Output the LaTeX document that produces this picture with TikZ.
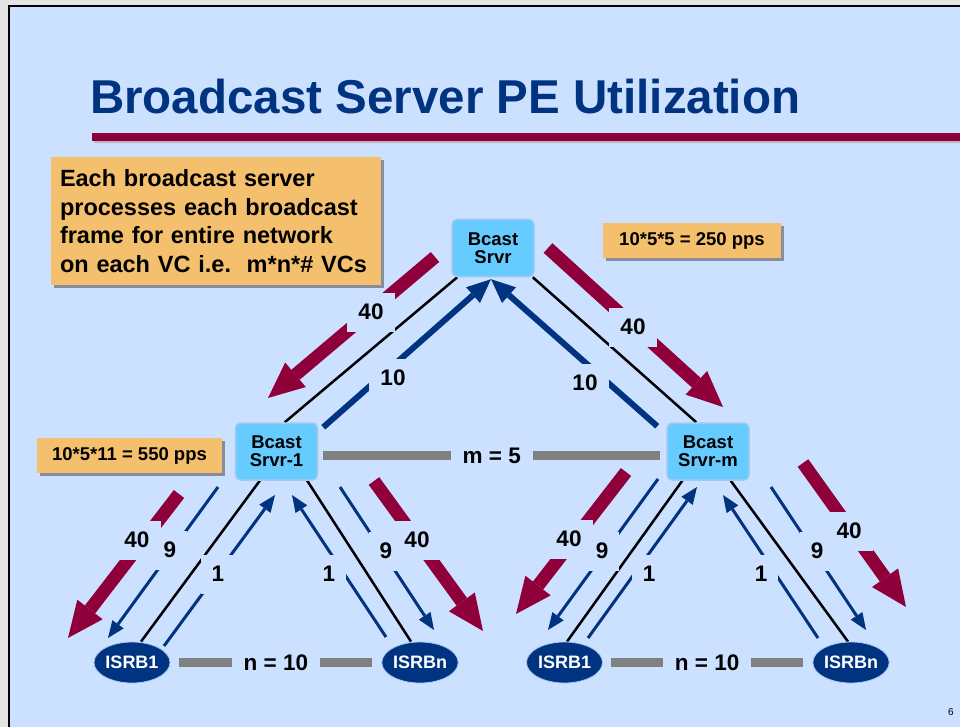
\documentclass[tikz,border=0pt]{standalone}
\usepackage{fontspec}
\setmainfont{Liberation Sans}
\usetikzlibrary{arrows.meta,shapes.geometric,shadows,calc}

\definecolor{slidebg}{RGB}{204,224,255}
\definecolor{outerbg}{RGB}{228,228,228}
\definecolor{titleblue}{RGB}{0,51,128}
\definecolor{rulered}{RGB}{143,0,59}
\definecolor{notefill}{RGB}{245,192,110}
\definecolor{noteshadow}{RGB}{135,140,158}
\definecolor{srvfill}{RGB}{102,204,255}
\definecolor{srvedge}{RGB}{165,200,240}
\definecolor{bargray}{RGB}{128,128,128}

\pgfdeclarelayer{back}
\pgfdeclarelayer{links}
\pgfsetlayers{back,links,main}

\begin{document}
\begin{tikzpicture}[x=1pt, y=-1pt,
  every node/.style={font=\bfseries},
  srv/.style={rectangle, rounded corners=5pt, fill=srvfill, draw=srvedge, line width=1.5pt,
    minimum width=82pt, minimum height=57pt, inner sep=0pt, align=center,
    font=\bfseries\fontsize{18.5}{18}\selectfont},
  isrb/.style={ellipse, fill=titleblue, draw=srvedge, line width=0.8pt,
    minimum width=76pt, minimum height=41pt, inner sep=0pt, text=white,
    font=\bfseries\fontsize{18}{18}\selectfont},
  note/.style={rectangle, fill=notefill, inner sep=0pt,
    drop shadow={shadow xshift=3pt, shadow yshift=-3pt, fill=noteshadow, opacity=1}},
  link/.style={line width=2.5pt, draw=black},
  bar/.style={line width=9pt, draw=bargray},
  bigred/.style={line width=13pt, draw=rulered,
    -{Triangle[length=36pt, width=32pt, line width=0pt]}},
  midblue/.style={line width=6pt, draw=titleblue,
    -{Triangle[length=24pt, width=21pt, line width=0pt]}},
  thinblue/.style={line width=3pt, draw=titleblue,
    -{Triangle[length=17pt, width=14pt, line width=0pt]}},
  rate/.style={fill=slidebg, inner xsep=11pt, inner ysep=0pt, minimum height=39pt,
    font=\bfseries\fontsize{22.5}{22.5}\selectfont},
  count/.style={fill=slidebg, inner xsep=12pt, inner ysep=0pt, minimum height=14pt,
    font=\bfseries\fontsize{22.5}{22.5}\selectfont},
]
\useasboundingbox (0,0) rectangle (960,727);

% slide background and frame
\begin{pgfonlayer}{back}
  \fill[outerbg] (0,0) rectangle (960,727);
  \fill[slidebg] (9,6) rectangle (960,727);
  \draw[line width=2.5pt] (9,727) -- (9,6) -- (960,6);
\end{pgfonlayer}

% title and rule
\node[anchor=base west, inner sep=0pt, text=titleblue,
  font=\bfseries\fontsize{47.5}{47.5}\selectfont] (title) at (90,114)
  {Broadcast Server PE Utilization};
\fill[black!28] (94,136) rectangle (960,143);
\fill[rulered] (92,133) rectangle (960,141);

% notes
\node[note, text width=312pt, inner xsep=9pt, minimum height=128pt, align=left,
  font=\bfseries\fontsize{23.5}{28.5}\selectfont] (info) at (216,221)
  {Each broadcast server\\processes each broadcast\\frame for entire network\\on each VC i.e.\ \ m*n*\# VCs};
\node[note, minimum width=178pt, minimum height=35pt,
  font=\bfseries\fontsize{18.5}{18.5}\selectfont] (rateTop) at (692,240.5) {10*5*5 = 250 pps};
\node[note, minimum width=185pt, minimum height=35pt,
  font=\bfseries\fontsize{18.5}{18.5}\selectfont] (rateLeft) at (129.5,455.5) {10*5*11 = 550 pps};

% servers
\node[srv] (top) at (493,248) {Bcast\\Srvr};
\node[srv] (s1) at (276.5,451.5) {Bcast\\Srvr-1};
\node[srv] (sm) at (708,451.5) {Bcast\\Srvr-m};

% ISRBs
\node[isrb] (a1) at (132,662.5) {ISRB1};
\node[isrb] (an) at (420,662.5) {ISRBn};
\node[isrb] (b1) at (564.5,662.5) {ISRB1};
\node[isrb] (bn) at (851,662.5) {ISRBn};

% page number
\node[font=\fontsize{10}{10}\selectfont, inner sep=0pt] (page) at (951,712) {6};

\begin{pgfonlayer}{links}
  % physical links
  \draw[link] ($(top.south west)+(6,0)$) -- ($(s1.north west)+(50,0)$);
  \draw[link] ($(top.south east)+(-2,0)$) -- ($(sm.north west)+(30,0)$);
  \draw[link] ($(s1.south west)+(25,0)$) -- ($(a1.north)+(9,0)$);
  \draw[link] ($(s1.south east)+(-11,0)$) -- ($(an.north)+(-9,0)$);
  \draw[link] ($(sm.south west)+(16,0)$) -- ($(b1.north)+(2.5,0)$);
  \draw[link] ($(sm.south east)+(-19,0)$) -- ($(bn.north)+(-3,0)$);

  % group sizes
  \draw[bar] ($(s1.east)+(5,4)$) -- node[count] (mcount) {m = 5} ($(sm.west)+(-6,4)$);
  \draw[bar] ($(a1.east)+(9,0)$) -- node[count] (ncount1) {n = 10} ($(an.west)+(-9,0)$);
  \draw[bar] ($(b1.east)+(8,0)$) -- node[count] (ncount2) {n = 10} ($(bn.west)+(-9,0)$);

  % top level flows
  \coordinate (redTLa) at (435,257); \coordinate (redTLb) at (268,398);
  \coordinate (redTRa) at (548,248); \coordinate (redTRb) at (723,407);
  \draw[bigred] (redTLa) -- (redTLb);
  \draw[bigred] (redTRa) -- (redTRb);
  \draw[midblue] ($(s1.north east)+(5,5)$) -- ($(top.south)+(-2,2)$);
  \draw[midblue] ($(sm.north west)+(-9,4)$) -- ($(top.south)+(-2,2)$);

  % flows below Srvr-1
  \coordinate (l9a) at (218,487); \coordinate (l9b) at (108,638);
  \coordinate (l1a) at (164,646); \coordinate (l1b) at (275,495);
  \coordinate (r1a) at (386,637); \coordinate (r1b) at (292,495);
  \coordinate (r9a) at (340,487); \coordinate (r9b) at (434,630);
  \coordinate (lRa) at (179,494); \coordinate (lRb) at (68,638);
  \coordinate (rRa) at (374,481); \coordinate (rRb) at (483,631);
  \draw[bigred] (lRa) -- (lRb);
  \draw[bigred] (rRa) -- (rRb);
  \draw[thinblue] (l9a) -- (l9b);
  \draw[thinblue] (l1a) -- (l1b);
  \draw[thinblue] (r1a) -- (r1b);
  \draw[thinblue] (r9a) -- (r9b);

  % flows below Srvr-m
  \coordinate (ml9a) at (658,479); \coordinate (ml9b) at (548,630);
  \coordinate (ml1a) at (588,638); \coordinate (ml1b) at (697,487);
  \coordinate (mr1a) at (818,638); \coordinate (mr1b) at (723,495);
  \coordinate (mr9a) at (771,487); \coordinate (mr9b) at (866,630);
  \coordinate (mlRa) at (626,472); \coordinate (mlRb) at (516,614);
  \coordinate (mrRa) at (803,463); \coordinate (mrRb) at (906,607);
  \draw[bigred] (mlRa) -- (mlRb);
  \draw[bigred] (mrRa) -- (mrRb);
  \draw[thinblue] (ml9a) -- (ml9b);
  \draw[thinblue] (ml1a) -- (ml1b);
  \draw[thinblue] (mr1a) -- (mr1b);
  \draw[thinblue] (mr9a) -- (mr9b);

  % rates
  \node[rate] (q1) at (371,312) {40};
  \node[rate] (q2) at (393,378) {10};
  \node[rate] (q3) at (633,327) {40};
  \node[rate] (q4) at (585,383) {10};
  \node[rate] (q5) at (137,540) {40};
  \node[rate] (q6) at (170,550) {9};
  \node[rate] (q7) at (218,574) {1};
  \node[rate] (q8) at (329,574) {1};
  \node[rate] (q9) at (386,551) {9};
  \node[rate] (q10) at (417,540) {40};
  \node[rate] (q11) at (569,539) {40};
  \node[rate] (q12) at (602,551) {9};
  \node[rate] (q13) at (649,574) {1};
  \node[rate] (q14) at (761,574) {1};
  \node[rate] (q15) at (817,551) {9};
  \node[rate] (q16) at (849,531) {40};
\end{pgfonlayer}
\end{tikzpicture}
\end{document}
